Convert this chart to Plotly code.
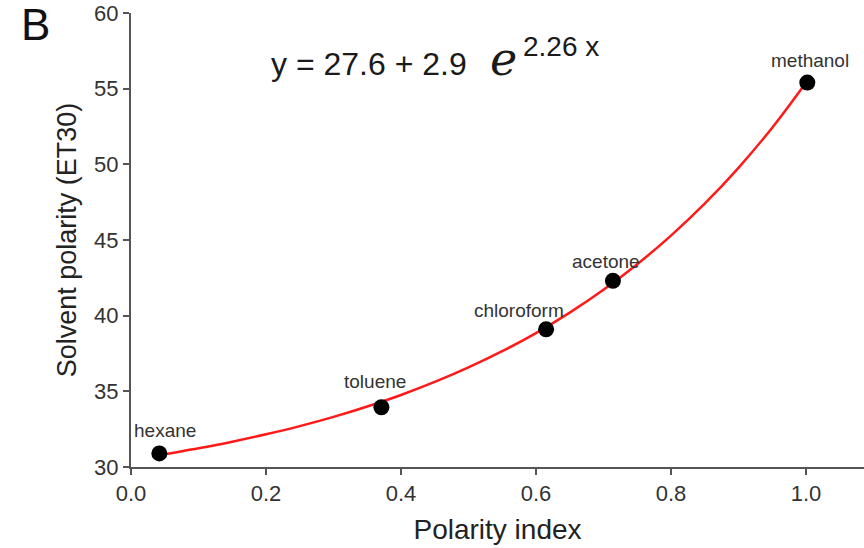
import plotly.graph_objects as go

# ---- data ----
solvents = ["hexane", "toluene", "chloroform", "acetone", "methanol"]
polarity_index = [0.042, 0.371, 0.615, 0.714, 1.002]
et30 = [30.9, 33.95, 39.1, 42.3, 55.4]

fit_x = [0.04, 0.1, 0.15, 0.2, 0.25, 0.3, 0.35, 0.4, 0.45, 0.5, 0.55,
         0.6, 0.65, 0.7, 0.75, 0.8, 0.85, 0.9, 0.95, 1.0]
fit_y = [30.77, 31.24, 31.67, 32.16, 32.70, 33.31, 34.00, 34.76, 35.62,
         36.58, 37.65, 38.85, 40.20, 41.71, 43.40, 45.29, 47.40, 49.77,
         52.42, 55.39]

x_ticks = [0.0, 0.2, 0.4, 0.6, 0.8, 1.0]
y_ticks = [30, 35, 40, 45, 50, 55, 60]

# ---- style ----
FONT = "Liberation Sans, Arial, Helvetica, sans-serif"
label_shift = {"hexane": (6, 11), "toluene": (-6, 14), "chloroform": (-27, 7),
               "acetone": (-7, 8), "methanol": (3, 11)}

fig = go.Figure()
fig.add_trace(go.Scatter(x=fit_x, y=fit_y, mode="lines",
                         line=dict(color="#ff1a1a", width=2.5, shape="spline"),
                         hoverinfo="skip", showlegend=False))
fig.add_trace(go.Scatter(x=polarity_index, y=et30, mode="markers",
                         marker=dict(color="black", size=16),
                         text=solvents, showlegend=False))

for name, px, py in zip(solvents, polarity_index, et30):
    dx, dy = label_shift[name]
    fig.add_annotation(x=px, y=py, xref="x", yref="y", text=name,
                       showarrow=False, xanchor="center", yanchor="bottom",
                       xshift=dx, yshift=dy, borderpad=0,
                       font=dict(family=FONT, size=19, color="#333333"))

# equation
fig.add_annotation(x=0.19, y=0.845, xref="paper", yref="paper",
                   text="y = 27.6 + 2.9", showarrow=False,
                   xanchor="left", yanchor="bottom", borderpad=0,
                   font=dict(family=FONT, size=32, color="#1a1a1a"))
fig.add_annotation(x=0.488, y=0.838, xref="paper", yref="paper",
                   text="<i>e</i>", showarrow=False,
                   xanchor="left", yanchor="bottom", borderpad=0,
                   font=dict(family="DejaVu Serif, serif", size=46, color="#1a1a1a"))
fig.add_annotation(x=0.534, y=0.889, xref="paper", yref="paper",
                   text="2.26 x", showarrow=False,
                   xanchor="left", yanchor="bottom", borderpad=0,
                   font=dict(family=FONT, size=28, color="#1a1a1a"))

# panel letter
fig.add_annotation(x=-0.152, y=1.0, xref="paper", yref="paper",
                   text="B", showarrow=False, xanchor="left", yanchor="top",
                   yshift=14, borderpad=0,
                   font=dict(family=FONT, size=44, color="#111111"))

axis_common = dict(showline=True, linecolor="#555555", linewidth=2,
                   ticks="outside", ticklen=6, tickwidth=1.5, tickcolor="#555555",
                   showgrid=False, zeroline=False,
                   tickfont=dict(family=FONT, size=22, color="#333333"))

fig.update_layout(
    width=864, height=548,
    margin=dict(l=131, r=0, t=13, b=81),
    plot_bgcolor="white", paper_bgcolor="white",
    xaxis=dict(range=[0, 1.086], tickvals=x_ticks,
               ticktext=[f"{v:.1f}" for v in x_ticks],
               title=dict(text="Polarity index", standoff=14,
                          font=dict(family=FONT, size=28, color="#222222")),
               **axis_common),
    yaxis=dict(range=[30, 60], tickvals=y_ticks,
               ticktext=[str(v) for v in y_ticks],
               title=dict(text="Solvent polarity (ET30)", standoff=10,
                          font=dict(family=FONT, size=27, color="#222222")),
               **axis_common),
)

fig.write_html("out.html", config={"displayModeBar": False},
               post_script="document.body.style.margin='0';document.body.style.overflow='hidden';")
